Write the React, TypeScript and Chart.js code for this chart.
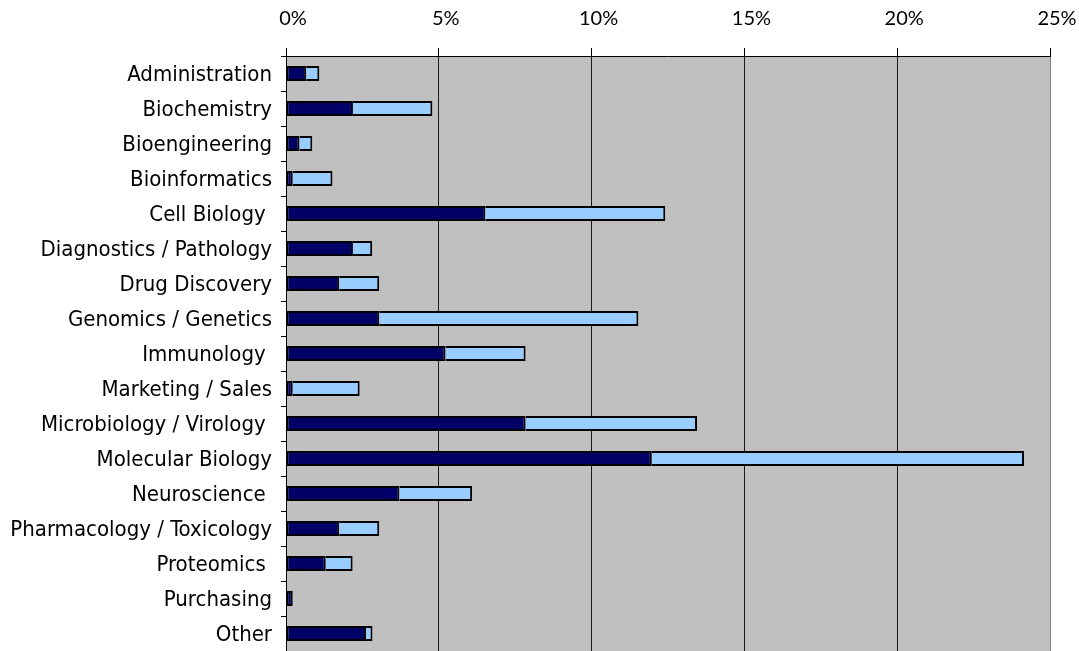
import React, { useEffect, useRef } from "react";
import { Chart, registerables } from "chart.js";

Chart.register(...registerables);

const categories = [
  "Administration",
  "Biochemistry",
  "Bioengineering",
  "Bioinformatics",
  "Cell Biology ",
  "Diagnostics / Pathology",
  "Drug Discovery",
  "Genomics / Genetics",
  "Immunology ",
  "Marketing / Sales",
  "Microbiology / Virology ",
  "Molecular Biology",
  "Neuroscience ",
  "Pharmacology / Toxicology",
  "Proteomics ",
  "Purchasing",
  "Other",
];

const darkSeries = [0.66, 2.19, 0.44, 0.22, 6.52, 2.19, 1.74, 3.05, 5.22, 0.22, 7.84, 11.97, 3.71, 1.74, 1.3, 0.22, 2.62];
const lightSeries = [0.43, 2.6, 0.42, 1.3, 5.89, 0.63, 1.31, 8.48, 2.62, 2.19, 5.61, 12.18, 2.38, 1.31, 0.88, 0, 0.21];

const xTicks = [0, 5, 10, 15, 20, 25];

const plotBg = {
  id: "plotBg",
  beforeDraw(chart: any) {
    const { ctx, chartArea } = chart;
    if (!chartArea) return;
    ctx.save();
    ctx.fillStyle = "#C0C0C0";
    ctx.fillRect(chartArea.left, chartArea.top, chartArea.right - chartArea.left, chartArea.bottom - chartArea.top);
    ctx.restore();
  },
};

export default function App() {
  const ref = useRef<HTMLCanvasElement | null>(null);
  useEffect(() => {
    if (!ref.current) return;
    const chart = new Chart(ref.current, {
      type: "bar",
      data: {
        labels: categories,
        datasets: [
          {
            label: "A",
            data: darkSeries,
            backgroundColor: "#000066",
            borderColor: "#000000",
            borderWidth: 2,
            borderSkipped: false,
            barPercentage: 0.43,
            categoryPercentage: 1,
          },
          {
            label: "B",
            data: lightSeries,
            backgroundColor: "#99CCFF",
            borderColor: "#000000",
            borderWidth: 2,
            borderSkipped: "left",
            barPercentage: 0.43,
            categoryPercentage: 1,
          },
        ],
      },
      options: {
        indexAxis: "y",
        animation: false,
        responsive: true,
        maintainAspectRatio: false,
        layout: { padding: { left: 0, right: 29, top: 0, bottom: 0 } },
        plugins: { legend: { display: false }, tooltip: { enabled: false } },
        scales: {
          x: {
            position: "top",
            stacked: true,
            min: 0,
            max: 25,
            afterBuildTicks(scale: any) {
              scale.ticks = xTicks.map((v) => ({ value: v }));
            },
            afterFit(scale: any) {
              scale.height = 56;
              scale.paddingLeft = 0;
              scale.paddingRight = 0;
            },
            ticks: {
              color: "#000",
              padding: 17,
              labelOffset: 7,
              font: { family: "Lato, 'Open Sans', sans-serif", size: 20 },
              callback: (v: any) => v + "%",
            },
            grid: {
              color: (c: any) => (c.index === xTicks.length - 1 ? "#808080" : "#1a1a1a"),
              tickColor: "#000",
              tickLength: 8,
              lineWidth: 1,
            },
            border: { color: "#000", width: 1 },
          },
          y: {
            stacked: true,
            afterFit(scale: any) {
              scale.width = 286;
              scale.paddingTop = 0;
              scale.paddingBottom = 0;
            },
            ticks: {
              color: "#000",
              padding: 9,
              labelOffset: 2,
              autoSkip: false,
              font: { family: "'DejaVu Sans Condensed', 'DejaVu Sans', sans-serif", size: 22 },
            },
            grid: {
              drawOnChartArea: false,
              tickColor: "#000",
              tickLength: 5,
            },
            border: { color: "#000", width: 1 },
          },
        },
      },
      plugins: [plotBg],
    });
    return () => chart.destroy();
  }, []);
  return (
    <div style={{ position: "fixed", left: 0, top: 0, width: 1079, height: 651, background: "#fff" }}>
      <canvas ref={ref} />
    </div>
  );
}
